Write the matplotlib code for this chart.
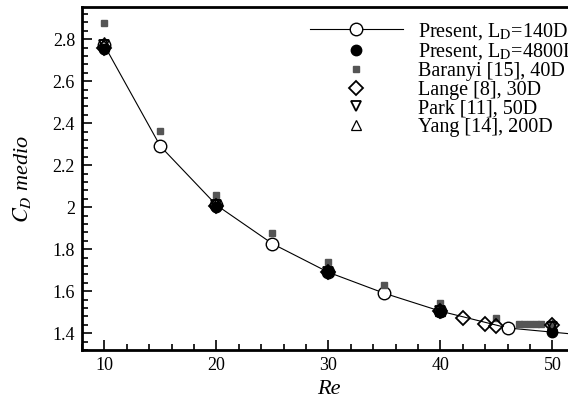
import matplotlib
matplotlib.use("Agg")
import matplotlib.pyplot as plt
from matplotlib.ticker import MultipleLocator

plt.rcParams['font.family'] = ['Liberation Serif', 'DejaVu Serif']
plt.rcParams['mathtext.fontset'] = 'stix'

# Present, LD=140D
re_140 = [10, 15, 20, 25, 30, 35, 40, 46, 55]
cd_140 = [2.77, 2.29, 2.01, 1.826, 1.69, 1.59, 1.505, 1.425, 1.38]

# Present, LD=4800D
re_4800 = [10, 20, 30, 40, 50]
cd_4800 = [2.755, 2.0, 1.69, 1.50, 1.405]

# Baranyi [15], 40D
re_bar = [10, 15, 20, 25, 30, 35, 40, 45, 47, 47.5, 48, 48.5, 49, 50]
cd_bar = [2.875, 2.362, 2.06, 1.876, 1.738, 1.628, 1.543, 1.471,
          1.446, 1.446, 1.445, 1.445, 1.444, 1.443]

# Lange [8], 30D
re_lan = [10, 20, 30, 40, 42, 44, 45, 50]
cd_lan = [2.76, 2.005, 1.69, 1.505, 1.472, 1.445, 1.432, 1.437]

# Park [11], 50D
re_par = [10, 20, 30, 40, 50]
cd_par = [2.77, 2.01, 1.69, 1.505, 1.43]

# Yang [14], 200D
re_yan = [10, 20, 30, 40, 50]
cd_yan = [2.785, 2.015, 1.695, 1.505, 1.44]

fig = plt.figure(figsize=(5.68, 4.01), dpi=100)
ax = fig.add_axes([82/568, 1-350/401, 44*11.2/568, 343/401])

ax.plot(re_140, cd_140, '-o', color='black', lw=0.8, mfc='white', mec='black',
        mew=1.0, ms=9, label=r'Present, L$_\mathrm{D}$=140D', zorder=2)
ax.plot(re_4800, cd_4800, 'o', color='black', ms=7.5, ls='none',
        label=r'Present, L$_\mathrm{D}$=4800D', zorder=3)
ax.plot(re_bar, cd_bar, 's', color='#555555', ms=5, ls='none',
        label='Baranyi [15], 40D', zorder=4)
ax.plot(re_lan, cd_lan, 'D', mfc='none', mec='black', mew=1.3, ms=7, ls='none',
        label='Lange [8], 30D', zorder=5)
ax.plot(re_par, cd_par, 'v', mfc='none', mec='black', mew=1.3, ms=6.5, ls='none',
        label='Park [11], 50D', zorder=6)
ax.plot(re_yan, cd_yan, '^', mfc='none', mec='black', mew=0.9, ms=6.5, ls='none',
        label='Yang [14], 200D', zorder=7)

ax.set_xlim(8, 52)
ax.set_ylim(1.32, 2.953)
ax.xaxis.set_major_locator(MultipleLocator(10))
ax.xaxis.set_minor_locator(MultipleLocator(2))
ax.yaxis.set_minor_locator(MultipleLocator(0.04))
ax.set_yticks([1.4, 1.6, 1.8, 2.0, 2.2, 2.4, 2.6, 2.8])
ax.set_yticklabels(['1.4', '1.6', '1.8', '2', '2.2', '2.4', '2.6', '2.8'])
ax.tick_params(which='both', direction='in', labelsize=13, width=1.2,
               top=False, right=False, pad=5)
ax.tick_params(which='major', length=7)
ax.tick_params(which='minor', length=4)
for s in ax.spines.values():
    s.set_linewidth(2)

ax.set_xlabel('Re', fontsize=16, style='italic', labelpad=4)
ax.set_ylabel(r'$C_D$ medio', fontsize=16, style='italic', labelpad=14)

fig.legend(loc='upper left', bbox_to_anchor=(310/568, 1-21/401), frameon=False,
           fontsize=14.5, handlelength=4.6, handletextpad=0.75, labelspacing=-0.02,
           borderpad=0, borderaxespad=0)

fig.savefig('out.png', dpi=100)
